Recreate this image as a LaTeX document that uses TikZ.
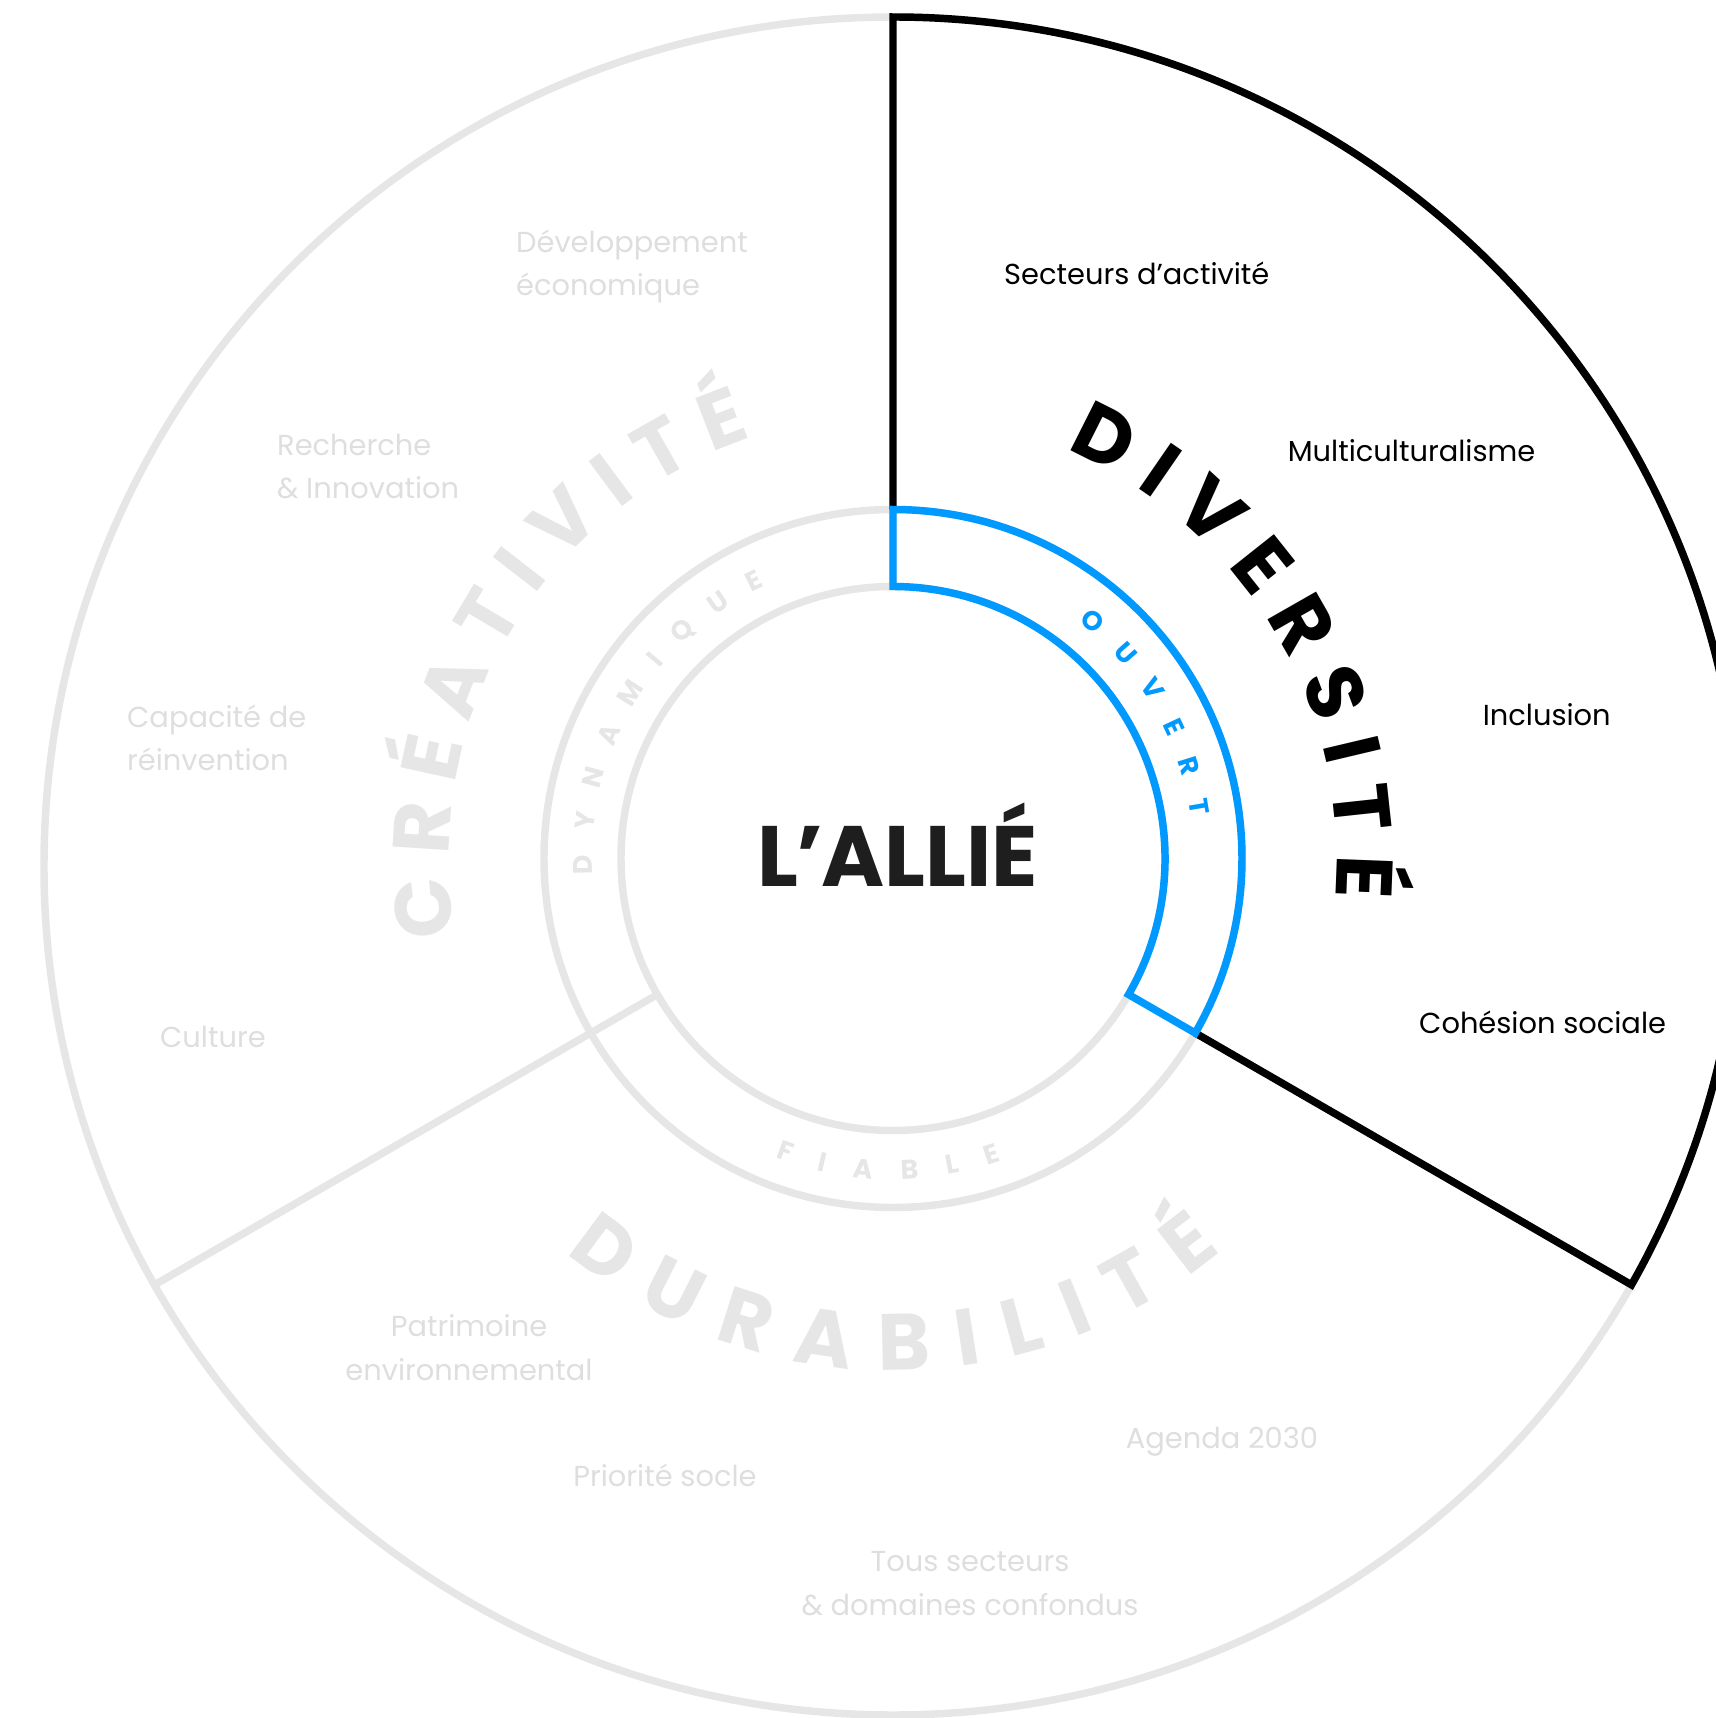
\documentclass[tikz,border=0pt]{standalone}
\usepackage{fontspec}
\setmainfont{Poppins}
\usetikzlibrary{decorations.text}
\definecolor{ringgray}{RGB}{230,230,230}
\definecolor{labelgray}{RGB}{222,222,222}
\definecolor{openblue}{RGB}{0,153,255}
\definecolor{titleblack}{RGB}{30,30,30}
\newcommand\bigarcfont{\fontsize{80}{80}\selectfont\bfseries}
\newcommand\smallarcfont{\fontsize{27}{27}\selectfont\bfseries}
\begin{document}
\begin{tikzpicture}[x=1bp,y=1bp,
  ringline/.style={draw=ringgray, line width=7.5},
  sectorline/.style={line width=7.5, line join=miter},
  itemtext/.style={font=\fontsize{29}{44}\selectfont, inner sep=0},
  grayitem/.style={itemtext, text=labelgray},
  darkitem/.style={itemtext, text=black},
  arctext/.style={decorate, decoration={text along path, text align={fit to path}, text color=#1}}
]
\useasboundingbox (-893,-859.5) rectangle (823,858.5);
\coordinate (O) at (0,0);
\coordinate (Oc) at (0,-7.5);
% gray rings
\draw[ringline] (O) circle[radius=272];
\draw[ringline] (O) circle[radius=349];
\draw[ringline] (Oc) circle[radius=849];
\draw[ringline] (210:272) -- (210:852.7);
\draw[ringline] (90:272) -- (90:349);
% black sector
\draw[sectorline, draw=black] (90:349) -- (0,841.5) arc[start angle=90, end angle=-29.56, radius=849] -- (-30:349);
% blue sector
\draw[sectorline, draw=openblue] (90:272) -- (90:349) arc[start angle=90, end angle=-30, radius=349] -- (-30:272) arc[start angle=-30, end angle=90, radius=272] -- cycle;
% centre title
\node[font=\fontsize{86}{86}\selectfont\bfseries, text=titleblack, inner sep=0, anchor=base] (title) at (5,-28.2) {L\kern-2pt’\kern-2pt ALLIÉ};
% curved big words
\path[arctext=ringgray, decoration={text={|\bigarcfont|CRÉATIVITÉ}}] (190:444) arc[start angle=190, end angle=108.5, radius=444];
\path[arctext=black, decoration={text={|\bigarcfont|DIVERSITÉ}}] (67:444) arc[start angle=67, end angle=-5, radius=444];
\path[arctext=ringgray, decoration={text={|\bigarcfont|DURABILITÉ}}] (-129.7:512) arc[start angle=-129.7, end angle=-50.1, radius=512];
% curved ring words
\path[arctext=ringgray, decoration={text={|\smallarcfont|DYNAMIQUE}}] (183:301) arc[start angle=183, end angle=115.3, radius=301];
\path[arctext=openblue, decoration={text={|\smallarcfont|OUVERT}}] (52:301) arc[start angle=52, end angle=8, radius=301];
\path[arctext=ringgray, decoration={text={|\smallarcfont|FIABLE}}] (-111.5:321) arc[start angle=-111.5, end angle=-70.2, radius=321];
% diversity items
\node[darkitem, anchor=base west] (secteurs) at (111,573.5) {Secteurs d’activité};
\node[darkitem, anchor=base west] (multi) at (394.6,396.5) {Multiculturalisme};
\node[darkitem, anchor=base west] (inclusion) at (589.6,132.5) {Inclusion};
\node[darkitem, anchor=base west] (cohesion) at (526,-174.5) {Cohésion sociale};
% creativity items
\node[grayitem, anchor=base west, align=left] (dev) at (-377,562.5) {Développement\\économique};
\node[grayitem, anchor=base west, align=left] (recherche) at (-616,359.5) {Recherche\\\& Innovation};
\node[grayitem, anchor=base west, align=left] (capacite) at (-766,87.5) {Capacité de\\réinvention};
\node[grayitem, anchor=base west] (culture) at (-733,-188.5) {Culture};
% durability items
\node[grayitem, anchor=base, align=center] (patrimoine) at (-424,-521.5) {Patrimoine\\environnemental};
\node[grayitem, anchor=base] (priorite) at (-228,-627.5) {Priorité socle};
\node[grayitem, anchor=base] (agenda) at (329,-589.5) {Agenda 2030};
\node[grayitem, anchor=base, align=center] (tous) at (77,-757) {Tous secteurs\\\& domaines confondus};
\end{tikzpicture}
\end{document}
